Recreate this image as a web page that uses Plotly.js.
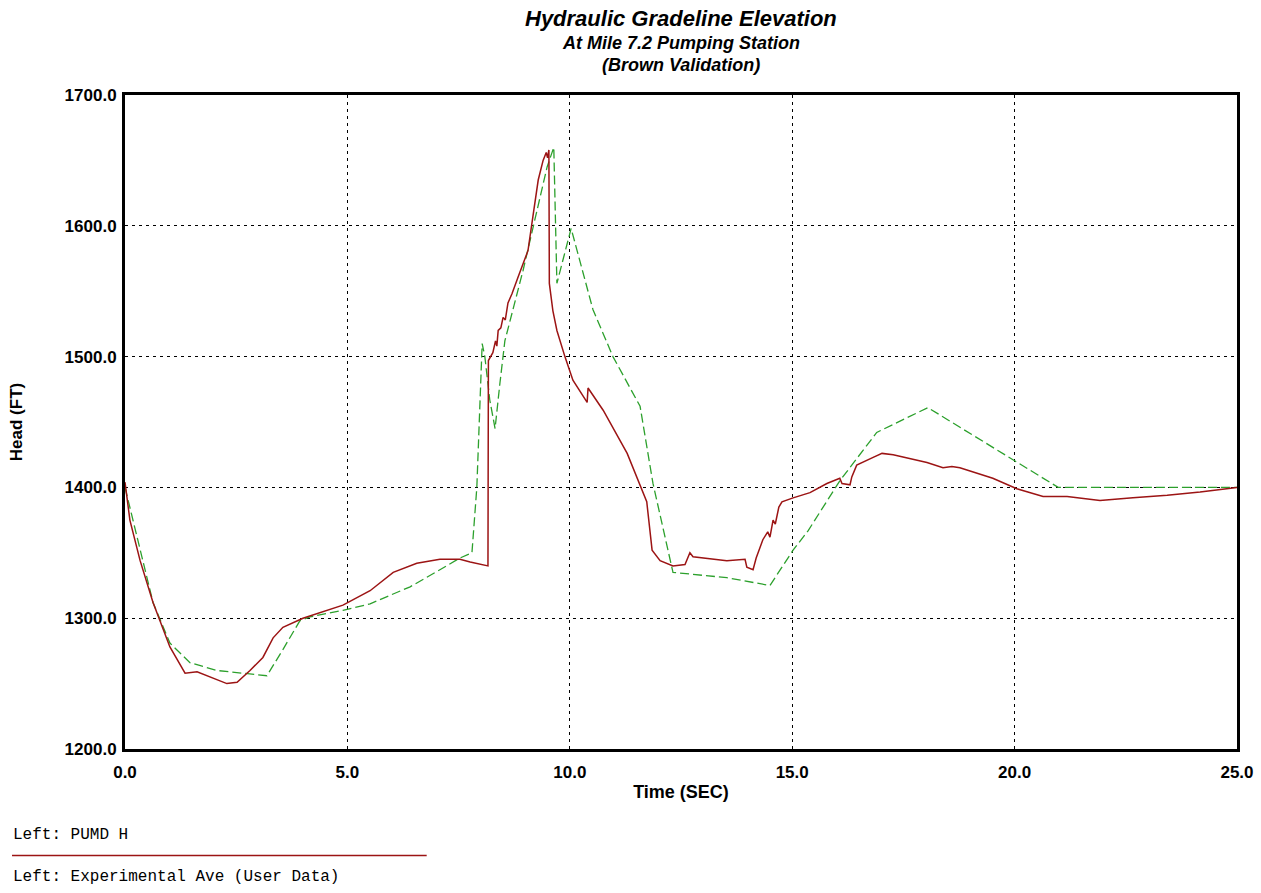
<!DOCTYPE html>
<html><head><meta charset="utf-8">
<script src="https://cdn.plot.ly/plotly-3.0.1.min.js"></script>
<style>body{margin:0;background:#fff}#chart{width:1261px;height:893px}</style>
</head><body><div id="chart"></div>
<script>
const pumdTime = [0,0.11,0.34,0.63,1.01,1.35,1.62,1.91,2.29,2.52,2.81,3.10,3.33,3.55,4.0,4.9,5.51,6.03,6.56,7.08,7.53,7.76,8.16,8.17,8.27,8.33,8.36,8.39,8.45,8.5,8.55,8.61,8.7,8.84,9.06,9.17,9.29,9.40,9.47,9.50,9.53,9.54,9.62,9.71,9.89,10.07,10.39,10.41,10.75,11.29,11.65,11.73,11.85,12.03,12.32,12.59,12.70,12.77,13.53,13.94,13.98,14.12,14.19,14.34,14.45,14.5,14.57,14.62,14.7,14.77,15.02,15.40,15.78,16.07,16.12,16.30,16.34,16.45,16.82,17.02,17.27,18.03,18.39,18.59,18.77,19.51,20.05,20.64,21.18,21.92,22.66,23.43,24.17,24.69,25];
const pumdHead = [1404,1375,1344,1312,1278,1258,1259,1255,1250,1251,1260,1270,1285,1293,1300,1310,1321,1335,1342,1345,1345,1343,1340,1497,1503,1512,1508,1520,1522,1530,1528,1541,1548,1561,1581,1607,1635,1650,1656,1652,1658,1556,1535,1520,1500,1482,1465,1476,1459,1426,1396,1389,1352,1344,1340,1341,1350,1347,1344,1345,1339,1337,1346,1360,1366,1362,1375,1372,1385,1389,1392,1396,1403,1407,1403,1402,1408,1417,1423,1426,1425,1419,1415,1416,1415,1407,1399,1393,1393,1390,1392,1394,1396.5,1399,1400];

const expTime = [0,0.63,1.01,1.46,2.07,2.65,3.19,3.55,3.93,4.16,4.9,5.51,6.41,7.08,7.53,7.80,7.91,8.03,8.09,8.2,8.32,8.43,8.54,8.95,9.17,9.49,9.64,9.71,10.03,10.52,10.97,11.58,11.87,12.25,12.32,13.53,14.5,15.02,15.36,16.07,16.75,16.9,18.05,19.96,20.98,25];
const expHead = [1400,1312,1281,1266,1260,1258,1256,1276,1298,1301,1306,1311,1324,1337,1346,1350,1400,1510,1500,1467,1445,1480,1512,1566,1599,1645,1660,1556,1598,1536,1500,1462,1403,1347,1335,1331,1325,1352,1367,1405,1436,1442,1461,1421,1400,1400];

const xTicks = [0,5,10,15,20,25];
const xTickText = ['0.0','5.0','10.0','15.0','20.0','25.0'];
const yTicks = [1200,1300,1400,1500,1600,1700];
const yTickText = ['1200.0','1300.0','1400.0','1500.0','1600.0','1700.0'];
const seriesNames = ['Left: PUMD H','Left: Experimental Ave (User Data)'];
const titleLines = ['Hydraulic Gradeline Elevation','At Mile 7.2 Pumping Station','(Brown Validation)'];

const redColor = '#9c1414';
const greenColor = '#2ca02c';
const sans = 'Arial, Liberation Sans, sans-serif';
const mono = 'Courier New, Liberation Mono, monospace';

const traces = [
  {x: expTime, y: expHead, mode:'lines', name: seriesNames[1], line:{color:greenColor, width:1.3, dash:'9px,4px'}},
  {x: pumdTime, y: pumdHead, mode:'lines', name: seriesNames[0], line:{color:redColor, width:1.5}}
];

const tickFont = {family:sans, size:17, color:'#000', weight:'bold'};
const layout = {
  width:1261, height:893,
  paper_bgcolor:'#fff', plot_bgcolor:'#fff',
  margin:{l:125, r:24, t:95, b:144},
  showlegend:false,
  xaxis:{range:[0,25], tickvals:xTicks, ticktext:xTickText, showgrid:true, gridcolor:'#000', gridwidth:1, griddash:'3px,4px',
    showline:true, linecolor:'#000', linewidth:3, mirror:true, zeroline:false, ticks:'', ticklabelstandoff:6, tickfont:tickFont,
    title:{text:'<b>Time (SEC)</b>', font:{family:sans, size:18, color:'#000'}, standoff:4}},
  yaxis:{range:[1200,1700], tickvals:yTicks, ticktext:yTickText, showgrid:true, gridcolor:'#000', gridwidth:1, griddash:'3px,4px',
    showline:true, linecolor:'#000', linewidth:3, mirror:true, zeroline:false, ticks:'', ticklabelstandoff:2, tickfont:tickFont,
    title:{text:'<b>Head (FT)</b>', font:{family:sans, size:17, color:'#000'}, standoff:38}},
  shapes:[
    {type:'line', xref:'paper', yref:'paper', x0:-0.1016, x1:0.2713, y0:-0.163, y1:-0.163, line:{color:redColor, width:1.5}}
  ],
  annotations:[
    {xref:'paper', yref:'paper', x:0.5, y:1.1177, xanchor:'center', yanchor:'middle', showarrow:false, text:'<b><i>'+titleLines[0]+'</i></b>', font:{family:sans, size:22, color:'#000'}},
    {xref:'paper', yref:'paper', x:0.5, y:1.0795, xanchor:'center', yanchor:'middle', showarrow:false, text:'<b><i>'+titleLines[1]+'</i></b>', font:{family:sans, size:18, color:'#000'}},
    {xref:'paper', yref:'paper', x:0.5, y:1.0459, xanchor:'center', yanchor:'middle', showarrow:false, text:'<b><i>'+titleLines[2]+'</i></b>', font:{family:sans, size:18, color:'#000'}},
    {xref:'paper', yref:'paper', x:-0.1025, y:-0.132, xanchor:'left', yanchor:'middle', showarrow:false, text:seriesNames[0], font:{family:mono, size:16, color:'#000'}},
    {xref:'paper', yref:'paper', x:-0.1025, y:-0.195, xanchor:'left', yanchor:'middle', showarrow:false, text:seriesNames[1], font:{family:mono, size:16, color:'#000'}}
  ]
};
Plotly.newPlot('chart', traces, layout, {displayModeBar:false, staticPlot:true});
</script></body></html>
